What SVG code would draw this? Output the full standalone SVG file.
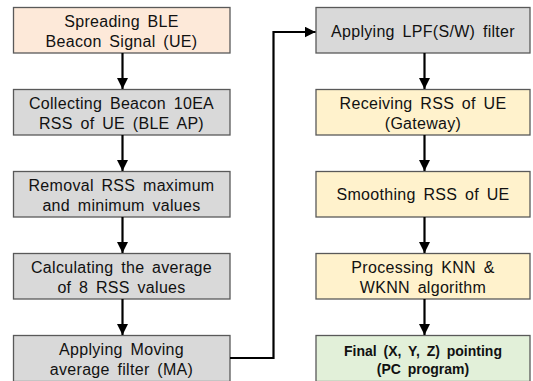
<svg xmlns="http://www.w3.org/2000/svg" width="533" height="381" viewBox="0 0 533 381">
<defs>
<style>
.b{stroke:#595959;stroke-width:1.3}
.or{fill:#fde9d9}.gr{fill:#d9d9d9}.ye{fill:#fff2cc}.gn{fill:#e2f0d9}
text{font-family:"Liberation Sans",Arial,sans-serif;font-size:16px;fill:#111;text-anchor:middle;word-spacing:3px;letter-spacing:0.3px}
.bd{font-weight:bold;font-size:14px;letter-spacing:0}
.c{stroke:#000;stroke-width:2.2;fill:none}
</style>
<marker id="ah" viewBox="0 0 10 10" refX="10" refY="5" markerWidth="5" markerHeight="5" markerUnits="strokeWidth" orient="auto"><path d="M0,0L10,5L0,10z" fill="#000"/></marker>
</defs>
<rect width="533" height="381" fill="#fff"/>
<g id="n1"><rect class="b or" x="13.5" y="7.5" width="216.5" height="45.5"/><text x="121.5" y="27">Spreading BLE</text><text x="121.5" y="46.5">Beacon Signal (UE)</text></g>
<g id="n2"><rect class="b gr" x="13.5" y="89.5" width="216.5" height="45.5"/><text x="121.5" y="109">Collecting Beacon 10EA</text><text x="121.5" y="128.5">RSS of UE (BLE AP)</text></g>
<g id="n3"><rect class="b gr" x="13.5" y="171.5" width="216.5" height="45.5"/><text x="121.5" y="191">Removal RSS maximum</text><text x="121.5" y="210.5">and minimum values</text></g>
<g id="n4"><rect class="b gr" x="13.5" y="253.5" width="216.5" height="45.5"/><text x="121.5" y="273">Calculating the average</text><text x="121.5" y="292.5">of 8 RSS values</text></g>
<g id="n5"><rect class="b gr" x="13.5" y="335.5" width="216.5" height="46"/><text x="121.5" y="355">Applying Moving</text><text x="121.5" y="374.5">average filter (MA)</text></g>
<g id="n6"><rect class="b gr" x="316" y="7.5" width="214" height="45.5"/><text x="423" y="36.5">Applying LPF(S/W) filter</text></g>
<g id="n7"><rect class="b ye" x="316" y="89.5" width="214" height="45.5"/><text x="423" y="109">Receiving RSS of UE</text><text x="423" y="128.5">(Gateway)</text></g>
<g id="n8"><rect class="b ye" x="316" y="171.5" width="214" height="45.5"/><text x="423" y="200">Smoothing RSS of UE</text></g>
<g id="n9"><rect class="b ye" x="316" y="253.5" width="214" height="45.5"/><text x="423" y="273">Processing KNN &amp;</text><text x="423" y="292.5">WKNN algorithm</text></g>
<g id="n10"><rect class="b gn" x="316" y="335.5" width="214" height="46"/><text class="bd" x="423" y="356">Final (X, Y, Z) pointing</text><text class="bd" x="423" y="374">(PC program)</text></g>
<g id="connectors">
<path class="c" d="M122.5,53V89" marker-end="url(#ah)"/>
<path class="c" d="M122.5,135V171" marker-end="url(#ah)"/>
<path class="c" d="M122.5,217V253" marker-end="url(#ah)"/>
<path class="c" d="M122.5,299V335" marker-end="url(#ah)"/>
<path class="c" d="M230,358H273.5V32H315.5" marker-end="url(#ah)"/>
<path class="c" d="M424.5,53V89" marker-end="url(#ah)"/>
<path class="c" d="M424.5,135V171" marker-end="url(#ah)"/>
<path class="c" d="M424.5,217V253" marker-end="url(#ah)"/>
<path class="c" d="M424.5,299V335" marker-end="url(#ah)"/>
</g>
</svg>
